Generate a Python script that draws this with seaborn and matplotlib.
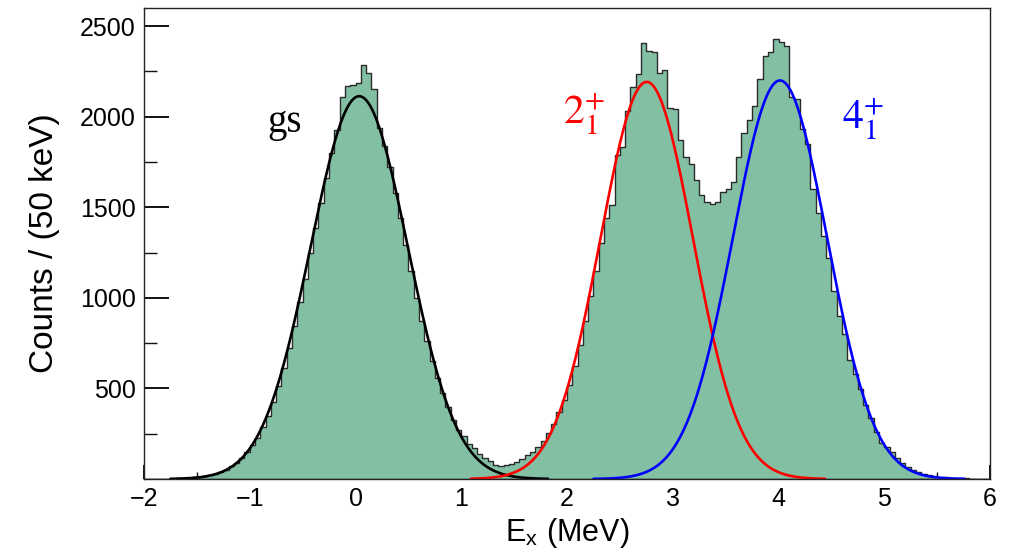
import numpy as np
import pandas as pd
import matplotlib
matplotlib.use("Agg")
import matplotlib.pyplot as plt
from matplotlib.ticker import FixedLocator
import seaborn as sns

# Excitation-energy spectrum, 50 keV bins from -2 to 6 MeV
bin_lo, bin_hi, bin_width = -2.0, 6.0, 0.05
counts = [
    0, 1, 0, 1, 2, 2, 3, 4, 6, 9, 12, 17, 22, 30, 40, 52, 70, 90, 118, 150,
    185, 228, 285, 350, 425, 515, 615, 725, 845, 975, 1105, 1245, 1385, 1525, 1660, 1800, 1925,
    2108, 2168, 2176, 2187, 2286, 2240, 2154, 1935,
    1840, 1720, 1580, 1440, 1290, 1150, 1000, 870, 760, 650, 560, 475, 395, 325, 270,
    235, 195, 170, 140, 118, 98, 80, 73, 76, 84, 96, 112, 130, 150, 178, 210, 255, 305, 370, 435,
    520, 625, 740, 870, 1010, 1150, 1300, 1440, 1510, 1790, 1830, 2030, 2165, 2235, 2405, 2360, 2355, 2240, 2255, 2050, 2045,
    1870, 1780, 1740, 1650, 1565, 1530, 1518, 1530, 1585, 1600, 1640, 1775, 1910, 1980, 2060, 2210, 2335, 2355, 2430, 2410, 2390,
    2110, 2100, 1930, 1850, 1600, 1470, 1340, 1220, 1040, 900, 800, 658, 580, 495, 410, 335, 262, 200, 176, 150,
    114, 86, 67, 50, 36, 28, 21, 16, 12, 9, 7, 5, 4, 3, 2, 2, 1, 1,
]

# Gaussian fit components: amplitude, centroid (MeV), sigma (MeV), drawn range (MeV)
fit_names = ["gs", "2+", "4+"]
fit_amp = [2113, 2192, 2200]
fit_mean = [0.035, 2.754, 4.014]
fit_sigma = [0.46, 0.437, 0.445]
fit_lo = [-1.75, 1.09, 2.25]
fit_hi = [1.82, 4.44, 5.76]
fit_colors = ["black", "#ff0000", "#0000ff"]

# State labels
label_text = ["gs", r"$2^{+}_{1}$", r"$4^{+}_{1}$"]
label_x = [-0.83, 1.96, 4.60]
label_y = [1913, 1963, 1935]

# Axis ticks
x_major = [-2, -1, 0, 1, 2, 3, 4, 5, 6]
x_minor = [-1.5, -0.5, 0.5, 1.5, 2.5, 3.5, 4.5, 5.5]
y_major = [500, 1000, 1500, 2000, 2500]
y_minor = [250, 750, 1250, 1750, 2250]

sns.set_theme(style="ticks")
plt.rcParams["font.family"] = ["Liberation Sans", "DejaVu Sans"]
plt.rcParams["mathtext.fontset"] = "stix"
plt.rcParams["text.color"] = "black"
plt.rcParams["axes.labelcolor"] = "black"
plt.rcParams.update({
    "xtick.direction": "in", "ytick.direction": "in",
    "xtick.major.size": 10, "xtick.minor.size": 5,
    "ytick.major.size": 18, "ytick.minor.size": 9,
    "xtick.major.width": 1.4, "xtick.minor.width": 1.0,
    "ytick.major.width": 1.4, "ytick.minor.width": 1.0,
    "xtick.color": "#111111", "ytick.color": "#111111",
    "xtick.labelcolor": "black", "ytick.labelcolor": "black",
    "xtick.top": False, "ytick.right": False,
    "xtick.bottom": True, "ytick.left": True,
    "xtick.minor.visible": True, "ytick.minor.visible": True,
})

fig = plt.figure(figsize=(10.09, 5.52), dpi=100)
ax = fig.add_axes([144 / 1009, 1 - 479 / 552, (990 - 144) / 1009, (479 - 8) / 552])

n_bins = len(counts)
centers = [round(bin_lo + bin_width * (i + 0.5), 4) for i in range(n_bins)]
hist_df = pd.DataFrame({"Ex": centers, "counts": counts})

sns.histplot(data=hist_df, x="Ex", weights="counts", binwidth=bin_width,
             binrange=(bin_lo, bin_hi), element="step",
             fill=True, color="#83c0a3", alpha=1.0, edgecolor="#2b2b2b",
             linewidth=1.0, ax=ax)

for amp, mu, sig, lo, hi, col in zip(fit_amp, fit_mean, fit_sigma, fit_lo, fit_hi, fit_colors):
    xs = np.linspace(lo, hi, 400)
    ys = amp * np.exp(-0.5 * ((xs - mu) / sig) ** 2)
    sns.lineplot(x=xs, y=ys, color=col, linewidth=1.9, ax=ax, sort=False)

for txt, tx, ty, col in zip(label_text, label_x, label_y, fit_colors):
    if txt == "gs":
        ax.text(tx, ty, txt, color=col, fontsize=28, family="Liberation Serif",
                ha="left", va="baseline")
    else:
        ax.text(tx, ty, txt, color=col, fontsize=30, ha="left", va="baseline")

ax.set_xlim(bin_lo, bin_hi)
ax.set_ylim(0, 2600)
ax.xaxis.set_major_locator(FixedLocator(x_major))
ax.xaxis.set_minor_locator(FixedLocator(x_minor))
ax.yaxis.set_major_locator(FixedLocator(y_major))
ax.yaxis.set_minor_locator(FixedLocator(y_minor))
ax.tick_params(axis="both", which="major", labelsize=18, pad=6)

for sp in ax.spines.values():
    sp.set_visible(True)
    sp.set_color("#222222")
    sp.set_linewidth(1.0)

ax.set_xlabel(r"E$_{\mathregular{x}}$ (MeV)", fontsize=22, labelpad=3)
ax.set_ylabel("Counts / (50 keV)", fontsize=24, labelpad=14)
ax.grid(False)

fig.savefig("out.png", dpi=100)
